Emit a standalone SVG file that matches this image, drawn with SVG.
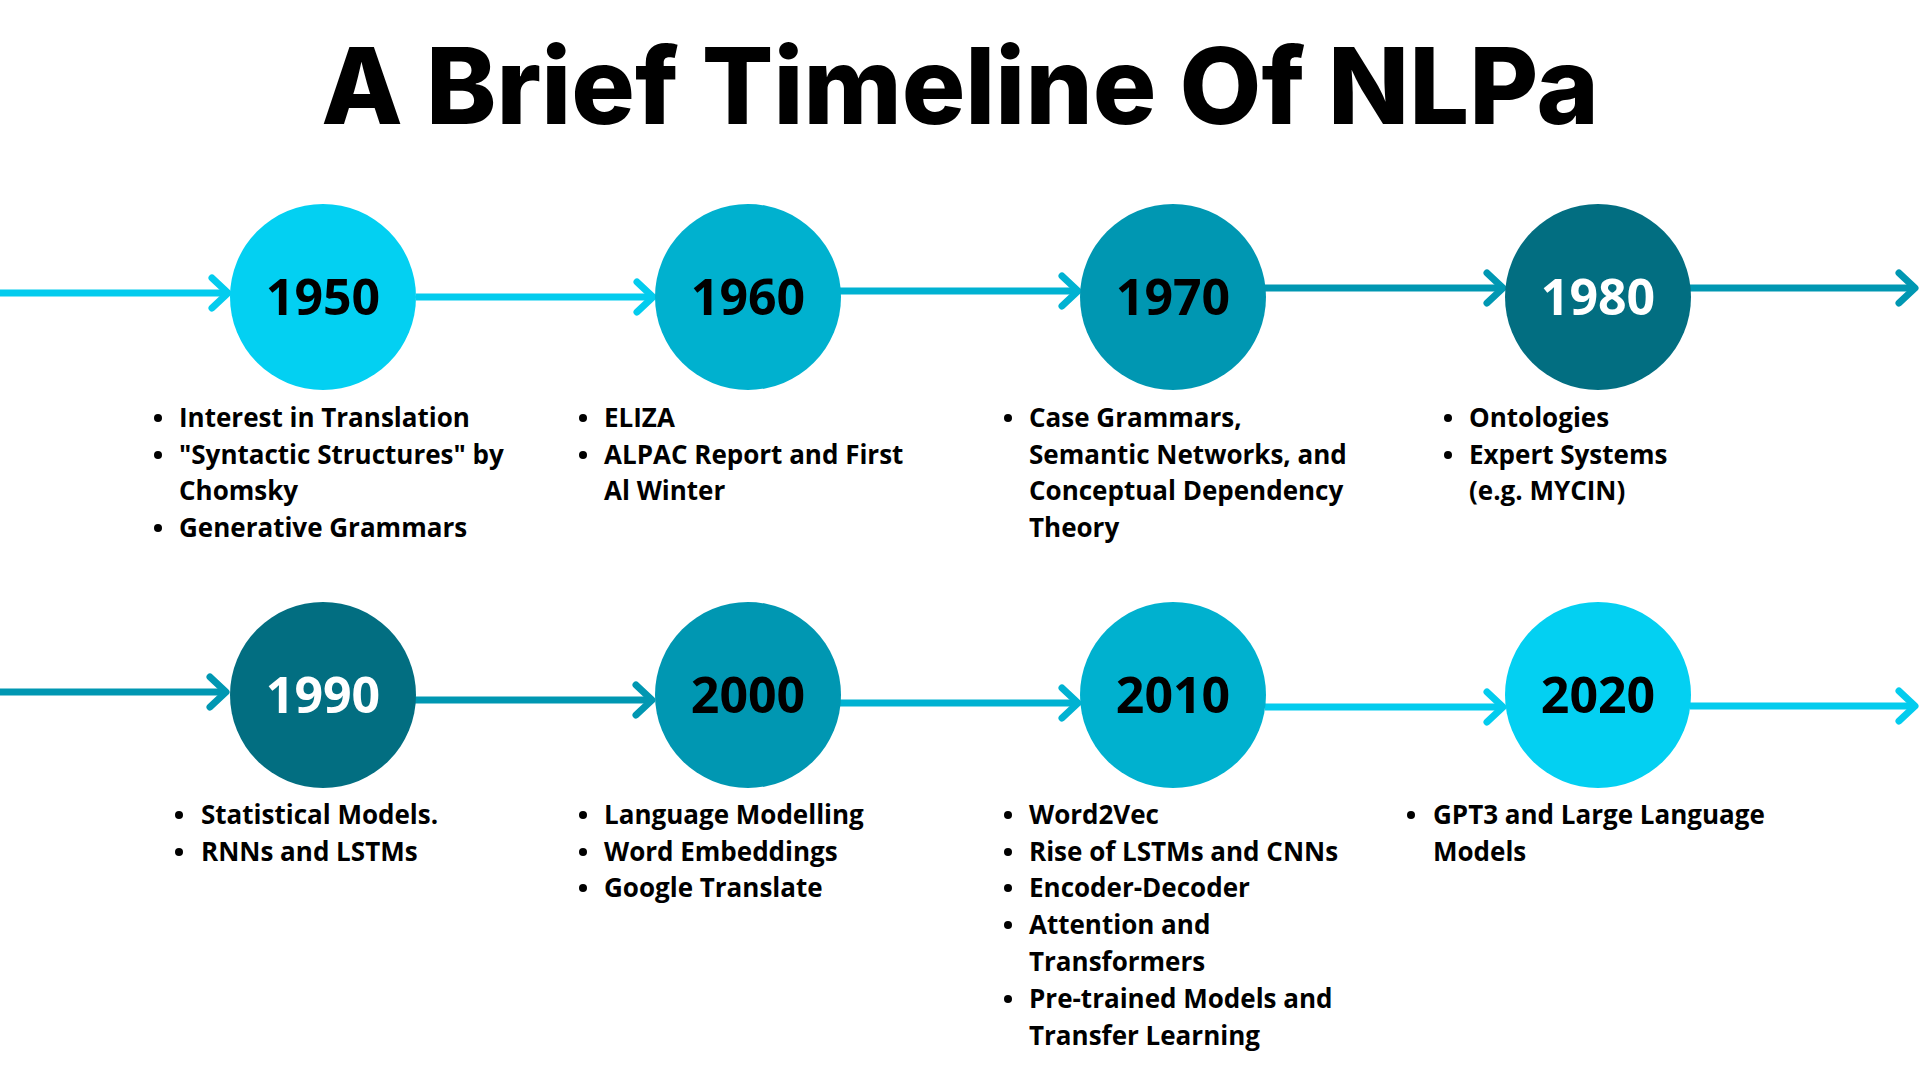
<svg xmlns="http://www.w3.org/2000/svg" width="1920" height="1080" viewBox="0 0 1920 1080">
<style>
.title{font-family:Inter,"Open Sans","Liberation Sans",sans-serif;font-weight:800;font-size:106px;fill:#000}
.year{font-family:"Open Sans","Liberation Sans",sans-serif;font-weight:700;font-size:50px;text-anchor:middle;dominant-baseline:central}
.dark{fill:#000}
.light{fill:#fff}
.item{font-family:"Open Sans","Liberation Sans",sans-serif;font-weight:700;font-size:26px;fill:#000}
.bul{fill:#000}
.ln{fill:none;stroke-width:7}
.c1{stroke:#03CCEE}
.c2{stroke:#00B2D2}
.c3{stroke:#0097B2}
</style>
<defs>
<marker id="m1" markerUnits="userSpaceOnUse" viewBox="-24 -20 30 40" markerWidth="30" markerHeight="40" refX="0" refY="0" orient="auto" overflow="visible"><path d="M-16 -15 L0 0 L-16 15" fill="none" stroke="#03CCEE" stroke-width="7" stroke-linecap="round" stroke-linejoin="round"/></marker>
<marker id="m2" markerUnits="userSpaceOnUse" viewBox="-24 -20 30 40" markerWidth="30" markerHeight="40" refX="0" refY="0" orient="auto" overflow="visible"><path d="M-16 -15 L0 0 L-16 15" fill="none" stroke="#00B2D2" stroke-width="7" stroke-linecap="round" stroke-linejoin="round"/></marker>
<marker id="m3" markerUnits="userSpaceOnUse" viewBox="-24 -20 30 40" markerWidth="30" markerHeight="40" refX="0" refY="0" orient="auto" overflow="visible"><path d="M-16 -15 L0 0 L-16 15" fill="none" stroke="#0097B2" stroke-width="7" stroke-linecap="round" stroke-linejoin="round"/></marker>
</defs>
<rect width="1920" height="1080" fill="#fff"/>
<text class="title" x="960" y="124" text-anchor="middle">A Brief Timeline Of NLPa</text>

<g id="connectors">
<line class="ln c1" x1="0" y1="293" x2="228" y2="293" marker-end="url(#m1)"/>
<line class="ln c1" x1="416" y1="297" x2="653" y2="297" marker-end="url(#m1)"/>
<line class="ln c2" x1="840" y1="291" x2="1078" y2="291" marker-end="url(#m2)"/>
<line class="ln c3" x1="1265" y1="288" x2="1503" y2="288" marker-end="url(#m3)"/>
<line class="ln c3" x1="1690" y1="288" x2="1915" y2="288" marker-end="url(#m3)"/>
<line class="ln c3" x1="0" y1="692" x2="226" y2="692" marker-end="url(#m3)"/>
<line class="ln c3" x1="415" y1="700" x2="652" y2="700" marker-end="url(#m3)"/>
<line class="ln c2" x1="840" y1="703" x2="1078" y2="703" marker-end="url(#m2)"/>
<line class="ln c1" x1="1265" y1="707" x2="1503" y2="707" marker-end="url(#m1)"/>
<line class="ln c1" x1="1690" y1="706" x2="1915" y2="706" marker-end="url(#m1)"/>
</g>

<g id="n1950">
<circle cx="323" cy="297" r="93" fill="#03D0F2"/>
<text class="year dark" x="323" y="296">1950</text>
<circle class="bul" cx="158" cy="418" r="4"/><text class="item" x="179" y="427">Interest in Translation</text>
<circle class="bul" cx="158" cy="455" r="4"/><text class="item" x="179" y="464">"Syntactic Structures" by</text>
<text class="item" x="179" y="500">Chomsky</text>
<circle class="bul" cx="158" cy="528" r="4"/><text class="item" x="179" y="537">Generative Grammars</text>
</g>

<g id="n1960">
<circle cx="748" cy="297" r="93" fill="#00B1CF"/>
<text class="year dark" x="748" y="296">1960</text>
<circle class="bul" cx="583" cy="418" r="4"/><text class="item" x="604" y="427">ELIZA</text>
<circle class="bul" cx="583" cy="455" r="4"/><text class="item" x="604" y="464">ALPAC Report and First</text>
<text class="item" x="604" y="500">Al Winter</text>
</g>

<g id="n1970">
<circle cx="1173" cy="297" r="93" fill="#0097B2"/>
<text class="year dark" x="1173" y="296">1970</text>
<circle class="bul" cx="1008" cy="418" r="4"/><text class="item" x="1029" y="427">Case Grammars,</text>
<text class="item" x="1029" y="464">Semantic Networks, and</text>
<text class="item" x="1029" y="500">Conceptual Dependency</text>
<text class="item" x="1029" y="537">Theory</text>
</g>

<g id="n1980">
<circle cx="1598" cy="297" r="93" fill="#026E81"/>
<text class="year light" x="1598" y="296">1980</text>
<circle class="bul" cx="1448" cy="418" r="4"/><text class="item" x="1469" y="427">Ontologies</text>
<circle class="bul" cx="1448" cy="455" r="4"/><text class="item" x="1469" y="464">Expert Systems</text>
<text class="item" x="1469" y="500">(e.g. MYCIN)</text>
</g>

<g id="n1990">
<circle cx="323" cy="695" r="93" fill="#026E81"/>
<text class="year light" x="323" y="694">1990</text>
<circle class="bul" cx="179" cy="815" r="4"/><text class="item" x="201" y="824">Statistical Models.</text>
<circle class="bul" cx="179" cy="852" r="4"/><text class="item" x="201" y="861">RNNs and LSTMs</text>
</g>

<g id="n2000">
<circle cx="748" cy="695" r="93" fill="#0097B2"/>
<text class="year dark" x="748" y="694">2000</text>
<circle class="bul" cx="583" cy="815" r="4"/><text class="item" x="604" y="824">Language Modelling</text>
<circle class="bul" cx="583" cy="852" r="4"/><text class="item" x="604" y="861">Word Embeddings</text>
<circle class="bul" cx="583" cy="888" r="4"/><text class="item" x="604" y="897">Google Translate</text>
</g>

<g id="n2010">
<circle cx="1173" cy="695" r="93" fill="#00B1CF"/>
<text class="year dark" x="1173" y="694">2010</text>
<circle class="bul" cx="1008" cy="815" r="4"/><text class="item" x="1029" y="824">Word2Vec</text>
<circle class="bul" cx="1008" cy="852" r="4"/><text class="item" x="1029" y="861">Rise of LSTMs and CNNs</text>
<circle class="bul" cx="1008" cy="888" r="4"/><text class="item" x="1029" y="897">Encoder-Decoder</text>
<circle class="bul" cx="1008" cy="925" r="4"/><text class="item" x="1029" y="934">Attention and</text>
<text class="item" x="1029" y="971">Transformers</text>
<circle class="bul" cx="1008" cy="999" r="4"/><text class="item" x="1029" y="1008">Pre-trained Models and</text>
<text class="item" x="1029" y="1045">Transfer Learning</text>
</g>

<g id="n2020">
<circle cx="1598" cy="695" r="93" fill="#03D0F2"/>
<text class="year dark" x="1598" y="694">2020</text>
<circle class="bul" cx="1411" cy="815" r="4"/><text class="item" x="1433" y="824">GPT3 and Large Language</text>
<text class="item" x="1433" y="861">Models</text>
</g>
</svg>
